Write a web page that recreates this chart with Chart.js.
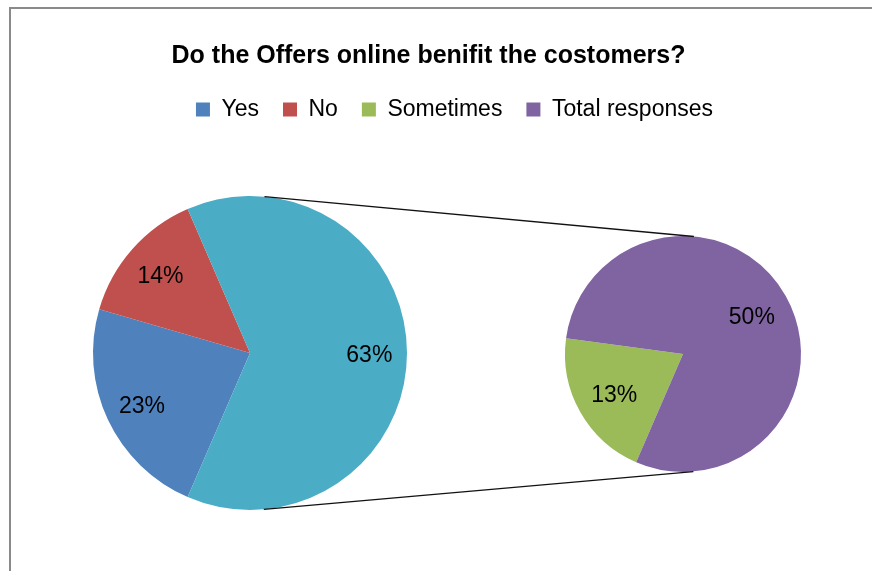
<!DOCTYPE html>
<html>
<head>
<meta charset="utf-8">
<title>Do the Offers online benifit the costomers?</title>
<script src="https://cdn.jsdelivr.net/npm/chart.js@4.4.0/dist/chart.umd.min.js"></script>
<style>
  html, body { margin: 0; padding: 0; background: #fff; overflow: hidden; }
  #wrap { position: relative; width: 872px; height: 571px; overflow: hidden; }
  #frame { position: absolute; left: 9px; top: 7px; width: 900px; height: 600px;
           border-top: 2px solid #8a8a8a; border-left: 2px solid #8a8a8a; }
  canvas { position: absolute; left: 0; top: 0; }
</style>
</head>
<body>
<div id="wrap">
  <div id="frame"></div>
  <canvas id="leftPie" width="872" height="571"></canvas>
  <canvas id="rightPie" width="872" height="571"></canvas>
  <canvas id="header" width="872" height="131"></canvas>
</div>
<script>
// Survey answers, in percent of all responses
const legendLabels = ['Yes', 'No', 'Sometimes', 'Total responses'];
const legendValues = [23, 14, 13, 50];
const legendColors = ['#4F81BD', '#C0504D', '#9BBB59', '#8064A2'];

// Main pie: the last slice is broken out into the small pie
const mainLabels = ['Yes', 'No', 'Other'];
const mainValues = [23, 14, 63];
const mainColors = ['#4F81BD', '#C0504D', '#4BACC6'];

// Small pie: what the "Other" slice is made of
const splitLabels = ['Sometimes', 'Total responses'];
const splitValues = [13, 50];
const splitColors = ['#9BBB59', '#8064A2'];

const FONT = '"Liberation Sans", Arial, sans-serif';

// Start angle that keeps the broken-out slice centred on the right
const total = mainValues.reduce((s, v) => s + v, 0);
const startRotation = 90 + mainValues[mainValues.length - 1] / total * 180;

// Percent text inside each slice
function pctLabels(ratio) {
    return {
        id: 'pctLabels',
        afterDatasetsDraw(chart) {
            const ctx = chart.ctx;
            const values = chart.data.datasets[0].data;
            ctx.save();
            ctx.font = '23px ' + FONT;
            ctx.fillStyle = '#000';
            ctx.textAlign = 'center';
            ctx.textBaseline = 'middle';
            chart.getDatasetMeta(0).data.forEach((arc, i) => {
                const p = arc.getProps(['x', 'y', 'startAngle', 'endAngle', 'outerRadius'], true);
                const mid = (p.startAngle + p.endAngle) / 2;
                const r = p.outerRadius * ratio;
                ctx.fillText(values[i] + '%', p.x + Math.cos(mid) * r, p.y + Math.sin(mid) * r + 3);
            });
            ctx.restore();
        }
    };
}

const leftChart = new Chart(document.getElementById('leftPie'), {
    type: 'pie',
    data: {
        labels: mainLabels,
        datasets: [{ data: mainValues, backgroundColor: mainColors, borderWidth: 0 }]
    },
    options: {
        responsive: false,
        animation: false,
        rotation: startRotation,
        layout: { padding: { left: 93, right: 465, top: 196, bottom: 61 } },
        plugins: { legend: { display: false }, tooltip: { enabled: false } }
    },
    plugins: [pctLabels(0.76)]
});

// Lines joining the two pies (outer common tangents)
const connectors = {
    id: 'connectors',
    afterDatasetsDraw(chart) {
        const a = leftChart.getDatasetMeta(0).data[0].getProps(['x', 'y', 'outerRadius'], true);
        const b = chart.getDatasetMeta(0).data[0].getProps(['x', 'y', 'outerRadius'], true);
        const d = Math.hypot(b.x - a.x, b.y - a.y);
        const base = Math.atan2(b.y - a.y, b.x - a.x);
        const phi = Math.acos((a.outerRadius - b.outerRadius) / d);
        const ctx = chart.ctx;
        ctx.save();
        ctx.strokeStyle = '#111';
        ctx.lineWidth = 1.3;
        [base - phi, base + phi].forEach(t => {
            ctx.beginPath();
            ctx.moveTo(a.x + Math.cos(t) * a.outerRadius, a.y + Math.sin(t) * a.outerRadius);
            ctx.lineTo(b.x + Math.cos(t) * b.outerRadius, b.y + Math.sin(t) * b.outerRadius);
            ctx.stroke();
        });
        ctx.restore();
    }
};

new Chart(document.getElementById('rightPie'), {
    type: 'pie',
    data: {
        labels: splitLabels,
        datasets: [{ data: splitValues, backgroundColor: splitColors, borderWidth: 0 }]
    },
    options: {
        responsive: false,
        animation: false,
        rotation: startRotation,
        layout: { padding: { left: 565, right: 71, top: 236, bottom: 99 } },
        plugins: { legend: { display: false }, tooltip: { enabled: false } }
    },
    plugins: [pctLabels(0.67), connectors]
});

// Title and legend across the top
new Chart(document.getElementById('header'), {
    type: 'pie',
    data: {
        labels: legendLabels,
        datasets: [{ data: legendValues, backgroundColor: legendColors, borderWidth: 0, radius: 0 }]
    },
    options: {
        responsive: false,
        animation: false,
        layout: { padding: { left: 120, right: 135 } },
        plugins: {
            title: {
                display: true,
                text: 'Do the Offers online benifit the costomers?',
                color: '#000',
                font: { family: FONT, size: 25, weight: 'bold', lineHeight: 1.2 },
                padding: { top: 41, bottom: 3 }
            },
            legend: {
                position: 'top',
                align: 'end',
                labels: {
                    boxWidth: 14,
                    boxHeight: 14,
                    padding: 24,
                    color: '#000',
                    font: { family: FONT, size: 23 }
                }
            },
            tooltip: { enabled: false }
        }
    }
});
</script>
</body>
</html>
